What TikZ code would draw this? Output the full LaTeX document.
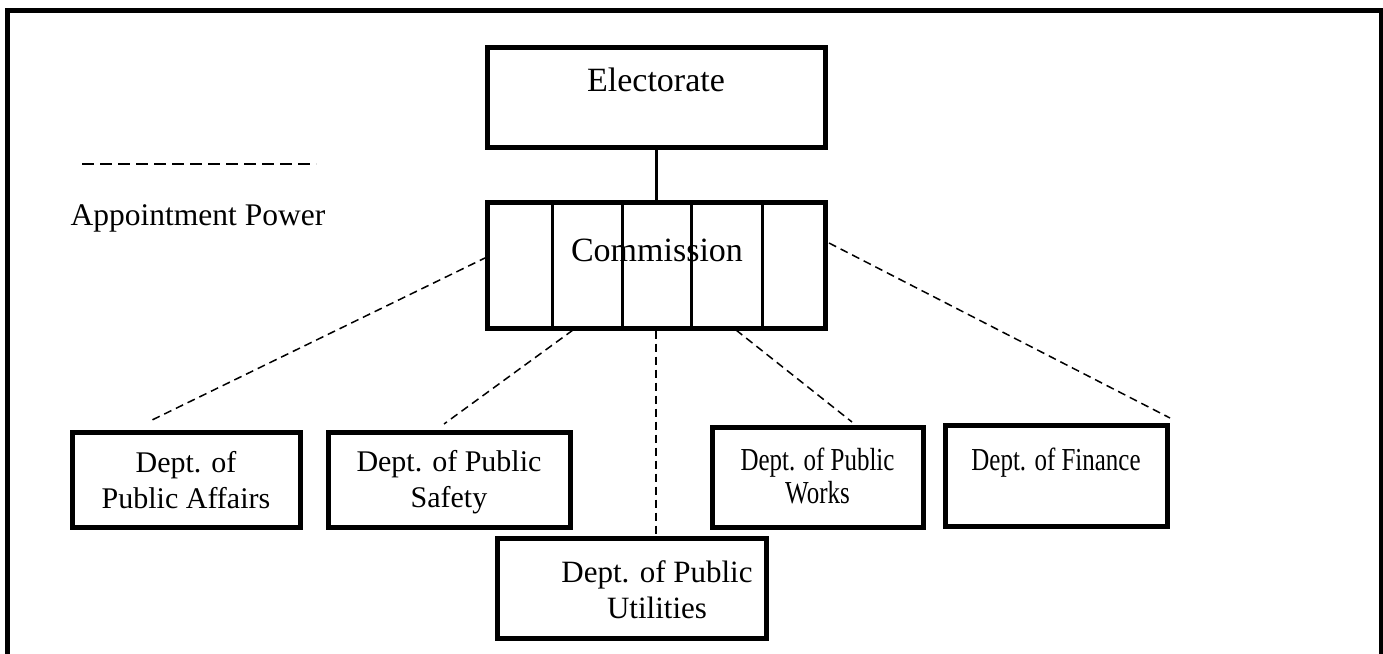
\documentclass[tikz,border=0pt]{standalone}
\usepackage{fontspec}
\setmainfont{Liberation Serif}
\newfontfamily\narrowserif[FakeStretch=0.78]{Liberation Serif}
\begin{document}
\begin{tikzpicture}[x=1pt,y=-1pt,
  bigbox/.style={draw, line width=5pt, inner sep=0pt, minimum width=338pt},
  deptbox/.style={draw, line width=5pt, inner sep=0pt},
  boxtext/.style={inner sep=0pt, font=\fontsize{34}{38}\selectfont},
  depttext/.style={inner sep=0pt, align=center, font=\fontsize{30}{36}\selectfont},
  narrowtext/.style={inner sep=0pt, align=center, font=\narrowserif\fontsize{32}{33}\selectfont},
  appoint/.style={line width=1.5pt, dash pattern=on 8pt off 5pt},
  solidlink/.style={line width=3pt}
]
\useasboundingbox (0,0) rectangle (1383,653);
% outer frame (open at the bottom)
\draw[line width=5pt] (7.5,665) -- (7.5,10) -- (1381,10) -- (1381,665);

% top boxes
\node[bigbox, minimum height=100pt] (elect) at (656,97) {};
\node[boxtext] (electtext) at (656,80) {Electorate};
\node[bigbox, minimum height=126pt] (comm) at (656,265) {};
\foreach \xx in {552,622,691,762} \draw[line width=3pt] (\xx,202) -- (\xx,328);
\node[boxtext] (commtext) at (657,250) {Commission};

% legend
\coordinate (legA) at (82,164);
\coordinate (legB) at (316,164);
\draw[line width=2pt, dash pattern=on 12pt off 6pt] (legA) -- (legB);
\node[inner sep=0pt, font=\fontsize{31.5}{36}\selectfont] (legtext) at (198,218) {Appointment Power};

% departments
\node[deptbox, minimum width=228pt, minimum height=95pt] (aff) at (186,479.5) {};
\node[depttext] (afftext) at (186,480) {Dept. of\\Public Affairs};
\node[deptbox, minimum width=242pt, minimum height=95pt] (saf) at (449,479.5) {};
\node[depttext] (saftext) at (449,482) {Dept. of Public\\Safety};
\node[deptbox, minimum width=269pt, minimum height=100pt] (utl) at (631.5,588) {};
\node[depttext, font=\fontsize{31}{36}\selectfont] (utltext) at (657,590) {Dept. of Public\\Utilities};
\node[deptbox, minimum width=211pt, minimum height=100pt] (wks) at (817.5,477) {};
\node[narrowtext] (wkstext) at (817.5,476) {Dept. of Public\\Works};
\node[deptbox, minimum width=222pt, minimum height=101pt] (fin) at (1056,475.5) {};
\node[narrowtext] (fintext) at (1056,463) {Dept. of Finance};

% appointment-power connectors
\coordinate (c1s) at (487,257);
\coordinate (c1e) at (150,421);
\coordinate (c2s) at (573,330);
\coordinate (c2e) at (444,424);
\coordinate (c4s) at (736,330);
\coordinate (c4e) at (852,422);
\coordinate (c5s) at (829,243);
\coordinate (c5e) at (1170,418);
\draw[appoint] (c1s) -- (c1e);
\draw[appoint] (c2s) -- (c2e);
\draw[appoint] (comm.south) -- (utl.north -| comm.south);
\draw[appoint] (c4s) -- (c4e);
\draw[appoint] (c5s) -- (c5e);

% electorate to commission
\draw[solidlink] (elect.south) -- (comm.north);
\end{tikzpicture}
\end{document}
